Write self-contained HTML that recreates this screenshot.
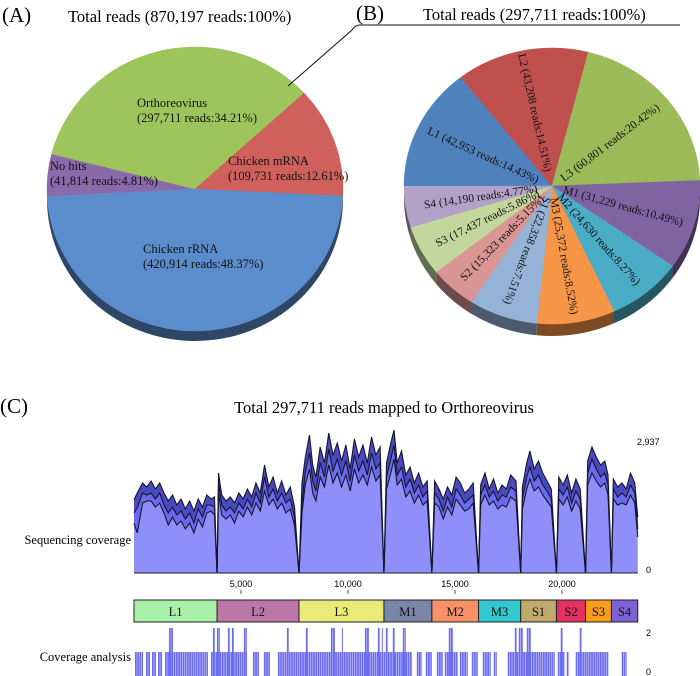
<!DOCTYPE html>
<html><head><meta charset="utf-8"><style>
html,body{margin:0;padding:0;background:#fff;}
svg{display:block;font-family:"Liberation Serif",serif;}
</style></head><body>
<svg id="fig" width="700" height="676" viewBox="0 0 700 676" xmlns="http://www.w3.org/2000/svg">
<g id="pieA"></g>
<g id="pieB"></g>
<text x="2" y="22" font-size="21">(A)</text>
<text x="68" y="22" font-size="16.5">Total reads (870,197 reads:100%)</text>
<text x="356" y="20" font-size="21">(B)</text>
<text x="423" y="20" font-size="16.5">Total reads (297,711 reads:100%)</text>
<path d="M288,86 L352,30 Q355,25 360,25 L680,25" fill="none" stroke="#111" stroke-width="1"/>
<text x="0" y="413" font-size="21">(C)</text>
<text x="384" y="413" font-size="16.5" text-anchor="middle">Total 297,711 reads mapped to Orthoreovirus</text>
<text x="131" y="544" font-size="12.5" text-anchor="end">Sequencing coverage</text>
<text x="131" y="661" font-size="12.5" text-anchor="end">Coverage analysis</text>
<g id="cov"></g>
<g id="seg"></g>
<g id="ana"></g>
</svg>
<script>
// ---------- Pie A data ----------
const aCategories = ["No hits","Orthoreovirus","Chicken mRNA","Chicken rRNA"];
const aReads = ["41,814","297,711","109,731","420,914"];
const aPercents = [4.81,34.21,12.61,48.37];
// ---------- Pie B data ----------
const bCategories = ["L1","L2","L3","M1","M2","M3","S1","S2","S3","S4"];
const bReads = ["42,953","43,208","60,801","31,229","24,630","25,372","22,358","15,323","17,437","14,190"];
const bPercents = [14.43,14.51,20.42,10.49,8.27,8.52,7.51,5.15,5.86,4.77];
// ---------- Coverage data ----------
const covPos = [0,150,400,600,800,1000,1200,1400,1600,1800,2000,2200,2400,2600,2800,3000,3200,3400,3600,3760,3880,
3950,4100,4300,4500,4700,4900,5100,5300,5500,5700,5900,6100,6300,6500,6700,6900,7100,7300,7500,7710,
7850,8000,8200,8350,8500,8700,8900,9100,9300,9500,9700,9900,10100,10300,10500,10700,10900,11100,11300,11500,11680,
11800,12000,12150,12300,12500,12700,12900,13100,13300,13500,13700,13920,
14050,14250,14450,14650,14850,15050,15250,15450,15650,15850,16100,
16200,16400,16600,16800,17000,17200,17400,17600,17850,18070,
18150,18350,18500,18700,18900,19100,19300,19500,19740,
19850,20050,20250,20450,20650,20850,21100,
21200,21400,21600,21800,22000,22150,22310,
22400,22600,22800,23000,23200,23400,23540];
const covUpper = [1460,1600,1800,1720,1840,1680,1800,1600,1440,1560,1360,1480,1280,1440,1240,1480,1320,1560,1480,1520,0,
2000,1560,1440,1520,1400,1600,1480,1680,1520,1800,1600,2160,1720,1920,1600,1840,1560,1720,1320,0,
1800,2300,2760,2160,1920,2520,2200,2800,2360,2600,2240,2560,2080,2680,2320,2560,2200,2720,2360,2520,0,
2200,2600,2860,2200,2440,1960,2120,1800,2000,1720,1840,0,
1840,1680,1480,1720,1560,1920,1800,1600,1680,1800,0,
1760,2000,1680,1880,1600,1760,1680,1960,1840,0,
1720,2200,2440,2080,2240,2000,1840,1680,0,
1920,1760,1960,1600,1880,1680,0,
2240,2520,2320,2160,2240,1960,0,
1880,1720,1800,1680,2000,1800,1120];
const covMid = [1200,1300,1600,1560,1600,1480,1600,1360,1200,1320,1160,1240,1080,1200,1000,1280,1120,1360,1360,1320,0,
1800,1360,1240,1320,1200,1400,1280,1480,1320,1600,1400,1920,1520,1680,1440,1600,1400,1480,1120,0,
1400,2000,2400,1840,1640,2200,1920,2480,2040,2280,1960,2240,1840,2360,2040,2240,1960,2400,2080,2200,0,
1920,2280,2560,1960,2120,1720,1880,1600,1760,1520,1640,0,
1600,1480,1240,1520,1320,1680,1560,1400,1480,1560,0,
1560,1760,1520,1640,1440,1560,1520,1720,1640,0,
1480,1920,2120,1840,1960,1760,1640,1480,0,
1680,1560,1720,1400,1640,1480,0,
2000,2280,2080,1920,2000,1760,0,
1680,1520,1600,1520,1760,1600,880];
const covLower = [1000,800,1400,1440,1440,1320,1400,1200,960,1120,960,1040,880,1000,800,1080,920,1200,1240,1160,0,
1600,1160,1080,1160,1000,1240,1120,1320,1160,1400,1240,1640,1360,1480,1280,1400,1200,1280,960,0,
1200,1760,2080,1600,1440,1920,1720,2160,1800,2000,1720,1960,1640,2080,1800,1960,1760,2120,1840,1960,0,
1680,2000,2280,1760,1880,1520,1640,1400,1560,1360,1440,0,
1400,1320,1080,1320,1160,1480,1360,1240,1280,1400,0,
1360,1560,1360,1440,1280,1360,1320,1520,1440,0,
1280,1680,1880,1640,1720,1560,1440,1320,0,
1480,1360,1520,1240,1440,1280,0,
1760,2000,1840,1720,1800,1560,0,
1480,1360,1400,1360,1560,1400,720];
const xTicks = [5000,10000,15000,20000];
const xTickLabels = ["5,000","10,000","15,000","20,000"];
const segNames = ["L1","L2","L3","M1","M2","M3","S1","S2","S3","S4"];
const segStart = [0,3880,7710,11680,13920,16100,18070,19740,21100,22310];
const segEnd = [3880,7710,11680,13920,16100,18070,19740,21100,22310,23540];
const segColors = ["#a9f0a9","#bb77a8","#eaea78","#7986a8","#f99068","#33c8cf","#bfa96c","#e23060","#f99c1c","#7b63d6"];
const anaStart = [47,560,841,1121,1448,3596,5557,6071,6725,13216,13636,14150,14524,15225,15785,16298,16812,17466,19801,20221,20641,22790,
1635,3689,3876,4390,4577,5137,7145,8032,9200,9713,10788,11395,11582,11768,12095,12562,14710,17793,17980,18353,19941,20828];
const anaEnd = [420,747,1027,1308,3456,5277,5838,6351,12983,13450,13917,14430,15131,15598,16065,16672,16952,19661,20128,20315,22183,23023,
1821,3783,4016,4483,4670,5277,7239,8126,9387,9760,10975,11488,11628,11862,12189,12702,14897,17886,18166,18540,20034,20921];
const anaValue = [1,1,1,1,1,1,1,1,1,1,1,1,1,1,1,1,1,1,1,1,1,1,
2,2,2,2,2,2,2,2,2,2,2,2,2,2,2,2,2,2,2,2,2,2];

const NS="http://www.w3.org/2000/svg";
function mk(tag, attrs, parent){const e=document.createElementNS(NS,tag);for(const k in attrs)e.setAttribute(k,attrs[k]);parent.appendChild(e);return e;}
function shade(hex,f){const n=parseInt(hex.slice(1),16);let r=(n>>16)&255,g=(n>>8)&255,b=n&255;r=Math.round(r*f);g=Math.round(g*f);b=Math.round(b*f);return "rgb("+r+","+g+","+b+")";}

function drawPie(g, cx, cy, rx, ry, depth, startDeg, pcts, colors, namePrefix){
  const rad=d=>d*Math.PI/180;
  const P=t=>[cx+rx*Math.cos(rad(t)), cy+ry*Math.sin(rad(t))];
  const spans=[];let t=startDeg;
  pcts.forEach(p=>{const t2=t+p*3.6;spans.push([t,t2]);t=t2;});
  spans.forEach((s,i)=>{
    [0,360,-360].forEach(off=>{
      const a=Math.max(s[0],off),b=Math.min(s[1],off+180);
      if(b>a){
        const p1=P(a),p2=P(b);
        const d="M"+p1[0]+","+p1[1]+" A"+rx+","+ry+" 0 0 1 "+p2[0]+","+p2[1]+" L"+p2[0]+","+(p2[1]+depth)+" A"+rx+","+ry+" 0 0 0 "+p1[0]+","+(p1[1]+depth)+" Z";
        const e=mk("path",{d:d,fill:shade(colors[i],0.5)},g);
        
        
      }
    });
  });
  spans.forEach((s,i)=>{
    const p1=P(s[0]),p2=P(s[1]);const large=(s[1]-s[0])>180?1:0;
    const d="M"+cx+","+cy+" L"+p1[0]+","+p1[1]+" A"+rx+","+ry+" 0 "+large+" 1 "+p2[0]+","+p2[1]+" Z";
    const e=mk("path",{d:d,fill:colors[i],stroke:colors[i],"stroke-width":"0.5"},g);
    
    
  });
  return spans;
}

// Pie A
const gA=document.getElementById("pieA");
const aColors=["#8b6aab","#9ec55c","#d0605b","#5b8dcd"];
drawPie(gA,195,189,148,142,10,-183,aPercents,aColors,"pie-a");
const aLabelPos=[[50,170,"start"],[137,107,"start"],[228,165,"start"],[143,253,"start"]];
aCategories.forEach((c,i)=>{
  const t=mk("text",{x:aLabelPos[i][0],y:aLabelPos[i][1],"font-size":"12.5",fill:"#111"},gA);
  
  
  const s1=mk("tspan",{x:aLabelPos[i][0]},t);s1.textContent=c;
  const s2=mk("tspan",{x:aLabelPos[i][0],dy:"15"},t);s2.textContent="("+aReads[i]+" reads:"+aPercents[i].toFixed(2)+"%)";
});

// Pie B
const gB=document.getElementById("pieB");
const bColors=["#4f81bd","#c0504d","#9bbb59","#8064a2","#4bacc6","#f79646","#95b3d7","#d99694","#c3d69b","#b3a2c7"];
const bcx=552,bcy=186,brx=148,bry=138;
const bSpans=drawPie(gB,bcx,bcy,brx,bry,12,180,bPercents,bColors,"pie-b");
bCategories.forEach((c,i)=>{
  const tm=(bSpans[i][0]+bSpans[i][1])/2*Math.PI/180;
  let ang=Math.atan2(bry*Math.sin(tm),brx*Math.cos(tm))*180/Math.PI;
  if(ang<-180)ang+=360; if(ang>180)ang-=360;
  const outward = (ang>-90 && ang<115);
  const txt=c+" ("+bReads[i]+" reads:"+bPercents[i].toFixed(2)+"%)";
  let rot, anchor, r;
  if(outward){rot=ang;anchor="start";r=12;}else{rot=ang+180;anchor="end";r=-15;}
  const t=mk("text",{x:r,y:4,"font-size":"11.5",fill:"#111","text-anchor":anchor,transform:"translate("+bcx+","+bcy+") rotate("+rot+")"},gB);
  
  
  t.textContent=txt;
});

// Coverage chart
const X0=134, XS=0.0214, BASE=573;
const xS=bp=>X0+bp*XS;
const yS=v=>BASE-v/20;
const gC=document.getElementById("cov");
function poly(top,bot){
  let pts=covPos.map((p,i)=>xS(p)+","+yS(top[i]));
  let back;
  if(bot){back=covPos.map((p,i)=>xS(p)+","+yS(bot[i])).reverse();}
  else back=[xS(covPos[covPos.length-1])+","+BASE, xS(0)+","+BASE];
  return pts.concat(back).join(" ");
}
let e;
e=mk("polygon",{points:poly(covLower,null),fill:"#8f8ffa"},gC);


e=mk("polygon",{points:poly(covMid,covLower),fill:"#6a6aee"},gC);


e=mk("polygon",{points:poly(covUpper,covMid),fill:"#4a4ac0"},gC);


[covUpper,covMid,covLower].forEach((arr,k)=>{
  const l=mk("polyline",{points:covPos.map((p,i)=>xS(p)+","+yS(arr[i])).join(" "),fill:"none",stroke:"#151530","stroke-width":"1.1"},gC);
  
  
});
e=mk("line",{x1:X0,x2:xS(23540),y1:BASE,y2:BASE,stroke:"#222","stroke-width":"1"},gC);


e=mk("text",{x:637,y:445,"font-size":"9","font-family":"Liberation Sans, sans-serif"},gC);


e.textContent="2,937";
e=mk("text",{x:646,y:573,"font-size":"9","font-family":"Liberation Sans, sans-serif"},gC);


e.textContent="0";
xTicks.forEach((v,i)=>{
  const tx=mk("text",{x:xS(v),y:587,"font-size":"9","text-anchor":"middle","font-family":"Liberation Sans, sans-serif"},gC);
  
  
  tx.textContent=xTickLabels[i];
  const tl=mk("line",{x1:xS(v),x2:xS(v),y1:590,y2:594,stroke:"#222","stroke-width":"0.8"},gC);
  
  
});

// Segment bar
const gS=document.getElementById("seg");
segNames.forEach((n,i)=>{
  const r=mk("rect",{x:xS(segStart[i]),y:600,width:xS(segEnd[i])-xS(segStart[i]),height:22,fill:segColors[i],stroke:"#222","stroke-width":"1"},gS);
  
  
  const t=mk("text",{x:(xS(segStart[i])+xS(segEnd[i]))/2,y:616,"font-size":"12.5","text-anchor":"middle",fill:"#111"},gS);
  
  
  t.textContent=n;
});

// Coverage analysis
const gN=document.getElementById("ana");
const ABASE=676, AUNIT=24;
anaStart.forEach((s,i)=>{
  const x1=xS(s), x2=xS(anaEnd[i]);
  for(let x=x1;x<x2-0.3;x+=2.2){
    const w=Math.min(1.8,x2-x);
    const r=mk("rect",{x:x,y:ABASE-anaValue[i]*AUNIT,width:w,height:anaValue[i]*AUNIT,fill:"#6d6df2"},gN);
    
    
  }
});
e=mk("text",{x:646,y:636,"font-size":"9","font-family":"Liberation Sans, sans-serif"},gN);


e.textContent="2";
e=mk("text",{x:646,y:675,"font-size":"9","font-family":"Liberation Sans, sans-serif"},gN);


e.textContent="0";
</script>
</body></html>
